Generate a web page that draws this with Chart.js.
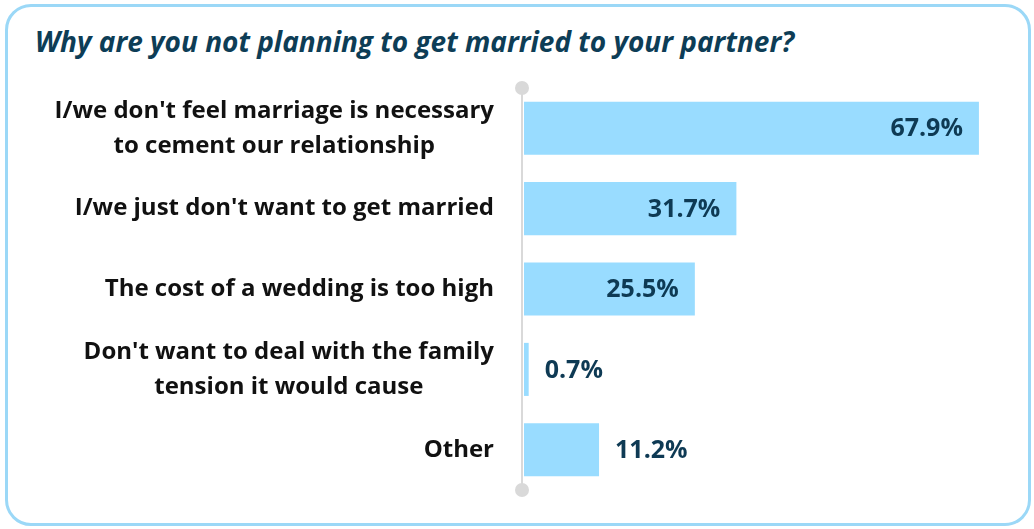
<!DOCTYPE html>
<html>
<head>
<meta charset="utf-8">
<script src="https://cdn.jsdelivr.net/npm/chart.js@4"></script>
<style>
  html,body{margin:0;padding:0;background:#fff;}
  body{width:1034px;height:529px;position:relative;overflow:hidden;font-family:"Open Sans",sans-serif;}
  #frame{position:absolute;left:5px;top:4px;width:1020px;height:516px;border:3px solid #9bd8f7;border-radius:26px;}
  #title{position:absolute;left:35px;top:22px;font-size:28px;font-weight:700;font-style:italic;color:#0d3d56;white-space:nowrap;}
  #wrap{position:absolute;left:0;top:0;width:1034px;height:529px;}
</style>
</head>
<body>
<div id="frame"></div>
<div id="title">Why are you not planning to get married to your partner?</div>
<div id="wrap"><canvas id="c"></canvas></div>
<script>
// donnees
const categories = [
  ["I/we don't feel marriage is necessary", "to cement our relationship"],
  ["I/we just don't want to get married"],
  ["The cost of a wedding is too high"],
  ["Don't want to deal with the family", "tension it would cause"],
  ["Other"]
];
const values = [67.9, 31.7, 25.5, 0.7, 11.2];
const valueLabels = ['67.9%', '31.7%', '25.5%', '0.7%', '11.2%'];

const FONT = '"Open Sans", sans-serif';

// axe vertical + pastilles
const axisLine = {
  id: 'axisLine',
  beforeDatasetsDraw(chart){
    const {ctx, chartArea:a} = chart;
    const x = a.left - 2;
    ctx.save();
    ctx.strokeStyle = '#d9d9d9';
    ctx.lineWidth = 2;
    ctx.beginPath(); ctx.moveTo(x, a.top); ctx.lineTo(x, a.bottom); ctx.stroke();
    ctx.fillStyle = '#d9d9d9';
    [a.top, a.bottom].forEach(y=>{ ctx.beginPath(); ctx.arc(x, y, 7, 0, Math.PI*2); ctx.fill(); });
    ctx.restore();
  }
};

// libelles des categories (bloc aligne a droite, lignes centrees)
const catLabels = {
  id: 'catLabels',
  afterDraw(chart){
    const {ctx} = chart;
    const y = chart.scales.y;
    const right = 494, lh = 35;
    ctx.save();
    ctx.font = 'bold 24px ' + FONT;
    ctx.fillStyle = '#111';
    ctx.textBaseline = 'middle';
    ctx.textAlign = 'center';
    categories.forEach((lines, i)=>{
      const w = Math.max(...lines.map(l=>ctx.measureText(l).width));
      const cx = right - w/2;
      const cy = y.getPixelForValue(i);
      lines.forEach((l, k)=>{
        ctx.fillText(l, cx, cy + (k - (lines.length-1)/2)*lh);
      });
    });
    ctx.restore();
  }
};

// valeurs sur les barres
const barValues = {
  id: 'barValues',
  afterDatasetsDraw(chart){
    const {ctx} = chart;
    const meta = chart.getDatasetMeta(0);
    ctx.save();
    ctx.font = 'bold 25px ' + FONT;
    ctx.fillStyle = '#0e3a54';
    ctx.textBaseline = 'middle';
    meta.data.forEach((bar, i)=>{
      const t = valueLabels[i];
      const tw = ctx.measureText(t).width;
      const bw = bar.x - bar.base;
      if(bw > tw + 32){
        ctx.textAlign = 'right';
        ctx.fillText(t, bar.x - 16, bar.y + 1);
      } else {
        ctx.textAlign = 'left';
        ctx.fillText(t, bar.x + 16, bar.y + 1);
      }
    });
    ctx.restore();
  }
};

new Chart(document.getElementById('c'), {
  type: 'bar',
  data: {
    labels: categories.map(c=>c.join(' ')),
    datasets: [{
      data: values,
      backgroundColor: '#99dcff',
      borderWidth: 0,
      barPercentage: 0.66,
      categoryPercentage: 1
    }]
  },
  options: {
    indexAxis: 'y',
    responsive: true,
    maintainAspectRatio: false,
    animation: false,
    layout: { padding: { left: 524, top: 88, bottom: 39, right: 41 } },
    scales: {
      x: { display: false, min: 0, max: 70 },
      y: { display: false }
    },
    plugins: { legend: { display: false }, tooltip: { enabled: false } }
  },
  plugins: [axisLine, catLabels, barValues]
});
</script>
</body>
</html>
